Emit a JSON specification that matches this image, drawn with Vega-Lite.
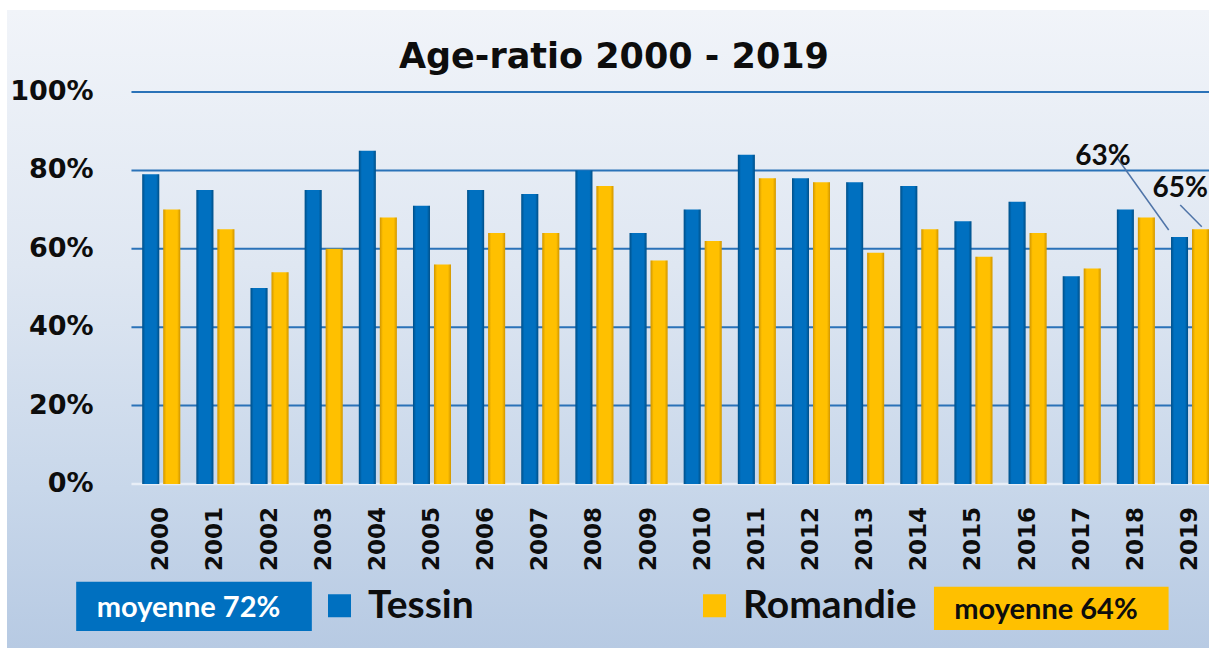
{
  "$schema": "https://vega.github.io/schema/vega-lite/v6.json",
  "width": 1202,
  "height": 638,
  "autosize": {"type": "none"},
  "padding": {"left": 7, "top": 10, "right": 0, "bottom": 5},
  "background": "#ffffff",
  "config": {
    "view": {
      "stroke": null,
      "fill": {"gradient": "linear", "x1": 0, "y1": 0, "x2": 0, "y2": 1,
        "stops": [
          {"offset": 0, "color": "#f1f4f9"},
          {"offset": 0.4, "color": "#dfe7f2"},
          {"offset": 0.75, "color": "#c8d7ea"},
          {"offset": 1, "color": "#b7cae3"}
        ]}
    },
    "font": "Lato"
  },
  "datasets": {
    "ratio": [
      {"year": 2000, "series": "Tessin", "value": 0.79},
      {"year": 2001, "series": "Tessin", "value": 0.75},
      {"year": 2002, "series": "Tessin", "value": 0.50},
      {"year": 2003, "series": "Tessin", "value": 0.75},
      {"year": 2004, "series": "Tessin", "value": 0.85},
      {"year": 2005, "series": "Tessin", "value": 0.71},
      {"year": 2006, "series": "Tessin", "value": 0.75},
      {"year": 2007, "series": "Tessin", "value": 0.74},
      {"year": 2008, "series": "Tessin", "value": 0.80},
      {"year": 2009, "series": "Tessin", "value": 0.64},
      {"year": 2010, "series": "Tessin", "value": 0.70},
      {"year": 2011, "series": "Tessin", "value": 0.84},
      {"year": 2012, "series": "Tessin", "value": 0.78},
      {"year": 2013, "series": "Tessin", "value": 0.77},
      {"year": 2014, "series": "Tessin", "value": 0.76},
      {"year": 2015, "series": "Tessin", "value": 0.67},
      {"year": 2016, "series": "Tessin", "value": 0.72},
      {"year": 2017, "series": "Tessin", "value": 0.53},
      {"year": 2018, "series": "Tessin", "value": 0.70},
      {"year": 2019, "series": "Tessin", "value": 0.63},
      {"year": 2000, "series": "Romandie", "value": 0.70},
      {"year": 2001, "series": "Romandie", "value": 0.65},
      {"year": 2002, "series": "Romandie", "value": 0.54},
      {"year": 2003, "series": "Romandie", "value": 0.60},
      {"year": 2004, "series": "Romandie", "value": 0.68},
      {"year": 2005, "series": "Romandie", "value": 0.56},
      {"year": 2006, "series": "Romandie", "value": 0.64},
      {"year": 2007, "series": "Romandie", "value": 0.64},
      {"year": 2008, "series": "Romandie", "value": 0.76},
      {"year": 2009, "series": "Romandie", "value": 0.57},
      {"year": 2010, "series": "Romandie", "value": 0.62},
      {"year": 2011, "series": "Romandie", "value": 0.78},
      {"year": 2012, "series": "Romandie", "value": 0.77},
      {"year": 2013, "series": "Romandie", "value": 0.59},
      {"year": 2014, "series": "Romandie", "value": 0.65},
      {"year": 2015, "series": "Romandie", "value": 0.58},
      {"year": 2016, "series": "Romandie", "value": 0.64},
      {"year": 2017, "series": "Romandie", "value": 0.55},
      {"year": 2018, "series": "Romandie", "value": 0.68},
      {"year": 2019, "series": "Romandie", "value": 0.65}
    ],
    "moy": [
      {"series": "Tessin", "label": "moyenne 72%"},
      {"series": "Romandie", "label": "moyenne 64%"}
    ],
    "grid": [
      {"g": 0}, {"g": 0.2}, {"g": 0.4}, {"g": 0.6}, {"g": 0.8}, {"g": 1.0}
    ]
  },
  "layer": [
    {
      "data": {"name": "grid"},
      "transform": [{"filter": "datum.g > 0"}],
      "mark": {"type": "rule", "color": "#2a72b8", "strokeWidth": 2},
      "encoding": {
        "y": {"field": "g", "type": "quantitative",
          "scale": {"domain": [-0.4184, 1.2092], "nice": false, "zero": false},
          "axis": null},
        "x": {"datum": 1999.45, "type": "quantitative",
          "scale": {"domain": [1997.2436, 2019.258], "nice": false, "zero": false},
          "axis": null},
        "x2": {"datum": 2019.4}
      }
    },
    {
      "data": {"name": "grid"},
      "transform": [{"filter": "datum.g === 0"}],
      "mark": {"type": "rule", "color": "#e8eef7", "strokeWidth": 2.5},
      "encoding": {
        "y": {"field": "g", "type": "quantitative", "axis": null},
        "x": {"datum": 1999.45, "type": "quantitative", "axis": null},
        "x2": {"datum": 2019.4}
      }
    },
    {
      "data": {"name": "grid"},
      "mark": {"type": "text", "font": "DejaVu Sans", "fontSize": 27, "fontWeight": "bold", "color": "#0d0d0d", "align": "right", "baseline": "middle"},
      "encoding": {
        "y": {"field": "g", "type": "quantitative", "axis": null},
        "x": {"datum": 1998.75, "type": "quantitative", "axis": null},
        "text": {"field": "g", "type": "quantitative", "format": ".0%"}
      }
    },
    {
      "data": {"name": "ratio"},
      "transform": [{"filter": "datum.series === 'Tessin'"}],
      "mark": {"type": "text", "font": "DejaVu Sans", "fontSize": 23, "fontWeight": "bold", "color": "#0d0d0d", "angle": 270, "align": "right", "baseline": "middle"},
      "encoding": {
        "x": {"field": "year", "type": "quantitative", "axis": null},
        "y": {"datum": -0.0587, "type": "quantitative", "axis": null},
        "text": {"field": "year", "type": "nominal"}
      }
    },
    {
      "data": {"name": "moy"},
      "transform": [{"filter": "datum.series === 'Tessin'"}],
      "mark": {"type": "text", "text": "Age-ratio 2000 - 2019", "font": "DejaVu Sans", "fontSize": 35, "fontWeight": "bold", "color": "#0d0d0d", "align": "center", "baseline": "alphabetic"},
      "encoding": {
        "x": {"datum": 2008.361, "type": "quantitative", "axis": null},
        "y": {"datum": 1.0612, "type": "quantitative", "axis": null}
      }
    },
    {
      "data": {"name": "ratio"},
      "transform": [{"filter": "datum.series === 'Tessin'"}],
      "encoding": {
        "x": {"field": "year", "type": "quantitative", "axis": null},
        "y": {"field": "value", "type": "quantitative", "axis": null},
        "y2": {"datum": 0}
      },
      "layer": [
        {
          "mark": {"type": "bar", "orient": "vertical", "width": 17, "xOffset": -10.5},
          "encoding": {
            "color": {
              "field": "series", "type": "nominal",
              "scale": {"domain": ["Tessin", "Romandie"], "range": ["#0070c0", "#ffc000"]},
              "legend": {
                "title": null,
                "orient": "none",
                "direction": "horizontal",
                "legendX": 313,
                "legendY": 576,
                "symbolType": "square",
                "symbolSize": 529,
                "symbolStrokeWidth": 0,
                "labelFont": "Lato",
                "labelFontSize": 39,
                "labelFontWeight": "bold",
                "labelColor": "#0d0d0d",
                "labelOffset": 9,
                "labelLimit": 400,
                "columnPadding": 221,
                "padding": 0
              }
            }
          }
        },
        {
          "mark": {"type": "bar", "orient": "vertical", "width": 17, "xOffset": -10.5,
            "color": {"gradient": "linear", "x1": 0, "y1": 0, "x2": 1, "y2": 0,
              "stops": [
                {"offset": 0, "color": "rgba(0,0,0,0.30)"},
                {"offset": 0.18, "color": "rgba(0,0,0,0)"},
                {"offset": 0.82, "color": "rgba(0,0,0,0)"},
                {"offset": 1, "color": "rgba(0,0,0,0.30)"}
              ]}}
        }
      ]
    },
    {
      "data": {"name": "ratio"},
      "transform": [{"filter": "datum.series === 'Romandie'"}],
      "encoding": {
        "x": {"field": "year", "type": "quantitative", "axis": null},
        "y": {"field": "value", "type": "quantitative", "axis": null},
        "y2": {"datum": 0}
      },
      "layer": [
        {
          "mark": {"type": "bar", "orient": "vertical", "width": 17, "xOffset": 10.5},
          "encoding": {
            "color": {"field": "series", "type": "nominal"}
          }
        },
        {
          "mark": {"type": "bar", "orient": "vertical", "width": 17, "xOffset": 10.5,
            "color": {"gradient": "linear", "x1": 0, "y1": 0, "x2": 1, "y2": 0,
              "stops": [
                {"offset": 0, "color": "rgba(120,70,0,0.35)"},
                {"offset": 0.18, "color": "rgba(120,70,0,0)"},
                {"offset": 0.82, "color": "rgba(120,70,0,0)"},
                {"offset": 1, "color": "rgba(120,70,0,0.35)"}
              ]}}
        }
      ]
    },
    {
      "data": {"name": "moy"},
      "transform": [{"filter": "datum.series === 'Tessin'"}],
      "layer": [
        {
          "mark": {"type": "rect", "color": "#0070c0"},
          "encoding": {
            "x": {"datum": 1998.429, "type": "quantitative", "axis": null},
            "x2": {"datum": 2002.781},
            "y": {"datum": -0.2492, "type": "quantitative", "axis": null},
            "y2": {"datum": -0.375}
          }
        },
        {
          "mark": {"type": "text", "color": "#ffffff", "font": "Lato", "fontSize": 29, "fontWeight": "bold", "align": "center", "baseline": "alphabetic"},
          "encoding": {
            "x": {"datum": 2000.504, "type": "quantitative", "axis": null},
            "y": {"datum": -0.3385, "type": "quantitative", "axis": null},
            "text": {"field": "label"}
          }
        }
      ]
    },
    {
      "data": {"name": "moy"},
      "transform": [{"filter": "datum.series === 'Romandie'"}],
      "layer": [
        {
          "mark": {"type": "rect", "color": "#ffc000"},
          "encoding": {
            "x": {"datum": 2014.271, "type": "quantitative", "axis": null},
            "x2": {"datum": 2018.604},
            "y": {"datum": -0.262, "type": "quantitative", "axis": null},
            "y2": {"datum": -0.3724}
          }
        },
        {
          "mark": {"type": "text", "color": "#0d0d0d", "font": "Lato", "fontSize": 29, "fontWeight": "bold", "align": "center", "baseline": "alphabetic"},
          "encoding": {
            "x": {"datum": 2016.34, "type": "quantitative", "axis": null},
            "y": {"datum": -0.3444, "type": "quantitative", "axis": null},
            "text": {"field": "label"}
          }
        }
      ]
    },
    {
      "data": {"name": "ratio"},
      "transform": [{"filter": "datum.year === 2019 && datum.series === 'Tessin'"}],
      "layer": [
        {
          "mark": {"type": "rule", "color": "#4f74a8", "strokeWidth": 1.5},
          "encoding": {
            "x": {"datum": 2017.659, "type": "quantitative", "axis": null},
            "x2": {"datum": 2018.606},
            "y": {"datum": 0.8309, "type": "quantitative", "axis": null},
            "y2": {"datum": 0.648}
          }
        },
        {
          "mark": {"type": "text", "color": "#0d0d0d", "font": "Lato", "fontSize": 28, "fontWeight": "bold", "align": "center", "baseline": "alphabetic"},
          "encoding": {
            "x": {"datum": 2017.393, "type": "quantitative", "axis": null},
            "y": {"datum": 0.8138, "type": "quantitative", "axis": null},
            "text": {"field": "value", "type": "quantitative", "format": ".0%"}
          }
        }
      ]
    },
    {
      "data": {"name": "ratio"},
      "transform": [{"filter": "datum.year === 2019 && datum.series === 'Romandie'"}],
      "layer": [
        {
          "mark": {"type": "rule", "color": "#4f74a8", "strokeWidth": 1.5},
          "encoding": {
            "x": {"datum": 2018.819, "type": "quantitative", "axis": null},
            "x2": {"datum": 2019.217},
            "y": {"datum": 0.7117, "type": "quantitative", "axis": null},
            "y2": {"datum": 0.6564}
          }
        },
        {
          "mark": {"type": "text", "color": "#0d0d0d", "font": "Lato", "fontSize": 28, "fontWeight": "bold", "align": "left", "baseline": "alphabetic"},
          "encoding": {
            "x": {"datum": 2018.306, "type": "quantitative", "axis": null},
            "y": {"datum": 0.733, "type": "quantitative", "axis": null},
            "text": {"field": "value", "type": "quantitative", "format": ".0%"}
          }
        }
      ]
    }
  ]
}
